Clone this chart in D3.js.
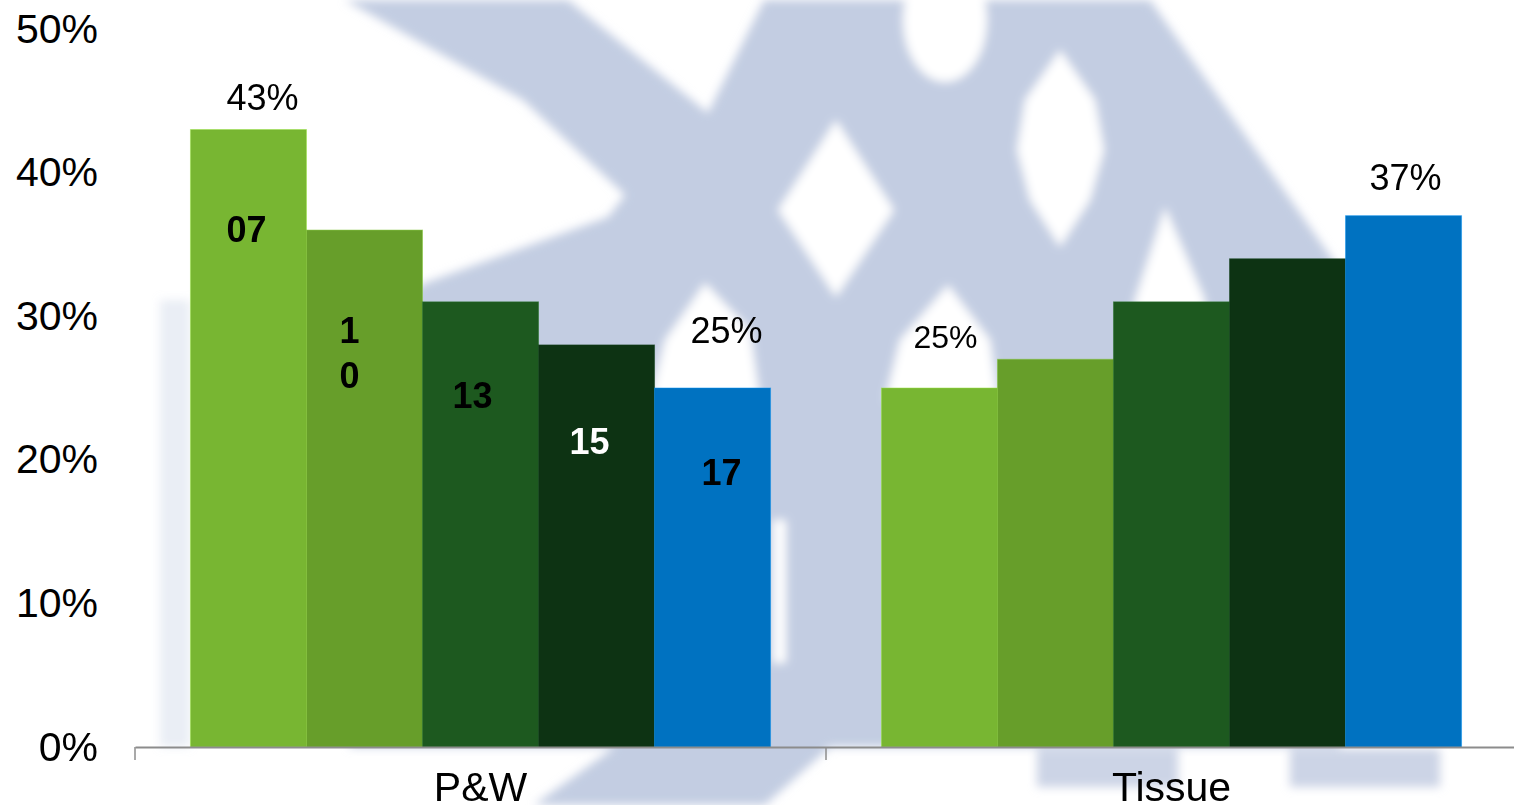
<!DOCTYPE html>
<html>
<head>
<meta charset="utf-8">
<script src="https://d3js.org/d3.v7.min.js"></script>
<style>
  body { margin: 0; background: #fff; }
  svg { display: block; font-family: "Liberation Sans", Arial, sans-serif; }
</style>
</head>
<body>
<div id="chart"></div>
<script>
// Chart values
const categories = ["P&W", "Tissue"];
const years = ["2007", "2010", "2013", "2015", "2017"];
const pwValues = [0.43, 0.36, 0.31, 0.28, 0.25];
const tissueValues = [0.25, 0.27, 0.31, 0.34, 0.37];
const yTicks = [0, 0.1, 0.2, 0.3, 0.4, 0.5];
// short year tags written inside the P&W bars (2010 wraps onto two lines)
const yearTags = [["07"], ["1", "0"], ["13"], ["15"], ["17"]];
// which bars carry a percentage label
const labelledBars = [0, 4];

const barColors = ["#78b632", "#679e2a", "#1d591f", "#0d3313", "#0072c1"];
const tagColors = ["#000", "#000", "#000", "#fff", "#000"];

const W = 1514, H = 805;
const baseY = 747;

const svg = d3.select("#chart")
    .append("svg")
    .attr("width", W)
    .attr("height", H);

// ---- faded logo watermark in the background ----
const defs = svg.append("defs");
defs.append("filter")
    .attr("id", "soft")
    .attr("filterUnits", "userSpaceOnUse")
    .attr("x", -50).attr("y", -50).attr("width", W + 100).attr("height", H + 100)
    .append("feGaussianBlur")
    .attr("stdDeviation", 5);

const wm = svg.append("g").attr("filter", "url(#soft)");
const wmBlue = "#c3cde2";
const line = d3.line();

wm.append("path")
    .attr("fill", wmBlue)
    .attr("d", line([
        [345, 0], [568, 0], [708, 113], [764, 0], [1150, 0], [1340, 270],
        [1340, 747], [830, 747], [765, 805], [534, 805], [615, 747],
        [350, 747], [350, 330], [425, 283], [608, 217], [625, 195], [523, 100]
    ]) + "Z");
wm.append("rect").attr("x", 160).attr("y", 300).attr("width", 30).attr("height", 447)
    .attr("fill", wmBlue).attr("opacity", 0.35);
wm.append("rect").attr("x", 1037).attr("y", 749).attr("width", 141).attr("height", 38)
    .attr("fill", wmBlue).attr("opacity", 0.85);
wm.append("rect").attr("x", 1290).attr("y", 749).attr("width", 150).attr("height", 38)
    .attr("fill", wmBlue).attr("opacity", 0.85);

// white cut-outs of the logo
wm.append("ellipse").attr("cx", 945).attr("cy", 20).attr("rx", 42).attr("ry", 62).attr("fill", "#fff");
wm.append("path").attr("fill", "#fff")
    .attr("d", line([[836, 120], [894, 210], [836, 297], [778, 210]]) + "Z");
wm.append("path").attr("fill", "#fff")
    .attr("d", line([[1060, 50], [1095, 100], [1104, 150], [1090, 200], [1060, 247], [1030, 200], [1017, 150], [1025, 100]]) + "Z");
wm.append("path").attr("fill", "#fff")
    .attr("d", line([[1165, 207], [1205, 300], [1205, 330], [1130, 330], [1135, 300]]) + "Z");
wm.append("path").attr("fill", "#fff")
    .attr("d", line([[948, 285], [990, 340], [998, 400], [885, 400], [900, 340]]) + "Z");
wm.append("path").attr("fill", "#fff")
    .attr("d", line([[705, 283], [750, 330], [760, 400], [650, 400], [665, 340]]) + "Z");
wm.append("rect").attr("x", 773).attr("y", 520).attr("width", 13).attr("height", 143).attr("fill", "#fff");

// ---- scales ----
const y = d3.scaleLinear().domain([0, 0.5]).range([baseY, 29]);

const x0 = d3.scaleBand()
    .domain(categories)
    .range([135, 1517]);

const x1 = d3.scaleBand()
    .domain(years)
    .range([0, x0.bandwidth()])
    .paddingOuter(0.478);

const color = d3.scaleOrdinal().domain(years).range(barColors);

const valuesFor = {"P&W": pwValues, "Tissue": tissueValues};
const table = categories.map((c) => ({
    category: c,
    bars: years.map((yr, i) => ({category: c, year: yr, index: i, value: valuesFor[c][i]}))
}));

// ---- bars ----
const groups = svg.append("g")
    .selectAll("g")
    .data(table)
    .join("g")
    .attr("transform", (d) => `translate(${x0(d.category)},0)`);

groups.selectAll("rect")
    .data((d) => d.bars)
    .join("rect")
    .attr("x", (d) => x1(d.year))
    .attr("y", (d) => y(d.value))
    .attr("width", x1.bandwidth())
    .attr("height", (d) => baseY - y(d.value))
    .attr("fill", (d) => color(d.year))
    .attr("stroke", (d) => d3.color(color(d.year)).brighter(0.6))
    .attr("stroke-opacity", 0.5)
    .attr("stroke-width", 1);

// ---- percentage labels (hand-placed in the original, so nudged per bar) ----
const valueNudge = {
    "P&W": [{dx: 14, dy: -20, size: 36}, null, null, null, {dx: 14, dy: -45, size: 36}],
    "Tissue": [{dx: 6, dy: -40, size: 32}, null, null, null, {dx: 2, dy: -26, size: 36}]
};
groups.selectAll("text.value")
    .data((d) => d.bars.filter((b) => labelledBars.includes(b.index)))
    .join("text")
    .attr("class", "value")
    .attr("text-anchor", "middle")
    .attr("x", (d) => x1(d.year) + x1.bandwidth() / 2 + valueNudge[d.category][d.index].dx)
    .attr("y", (d) => y(d.value) + valueNudge[d.category][d.index].dy)
    .style("font-size", (d) => valueNudge[d.category][d.index].size + "px")
    .attr("fill", "#000")
    .text((d) => d3.format(".0%")(d.value));

// ---- year tags inside the P&W bars ----
const tagNudge = [{dx: -2, dy: 112}, {dx: -15, dy: 113}, {dx: -8, dy: 106}, {dx: -7, dy: 109}, {dx: 9, dy: 97}];
const tags = groups.filter((d) => d.category === "P&W")
    .selectAll("text.tag")
    .data((d) => d.bars)
    .join("text")
    .attr("class", "tag")
    .attr("text-anchor", "middle")
    .style("font-size", "36px")
    .style("font-weight", "bold")
    .attr("fill", (d) => tagColors[d.index]);

tags.selectAll("tspan")
    .data((d) => yearTags[d.index].map((t, k) => ({t, k, bar: d})))
    .join("tspan")
    .attr("x", (d) => x1(d.bar.year) + x1.bandwidth() / 2 + tagNudge[d.bar.index].dx)
    .attr("y", (d) => y(d.bar.value) + tagNudge[d.bar.index].dy + d.k * 45)
    .text((d) => d.t);

// ---- x axis ----
const xAxis = svg.append("g")
    .attr("transform", `translate(0,${baseY})`)
    .call(d3.axisBottom(x0).tickSize(0).tickSizeOuter(0).tickPadding(25));
xAxis.select(".domain").attr("stroke", "#8c8c8c").attr("stroke-width", 2);
xAxis.selectAll("text").style("font-size", "41px").attr("fill", "#000");

// category dividers sit at the band edges, not the centres
xAxis.selectAll("line.divider")
    .data(categories)
    .join("line")
    .attr("class", "divider")
    .attr("x1", (d) => x0(d))
    .attr("x2", (d) => x0(d))
    .attr("y1", 0)
    .attr("y2", 13)
    .attr("stroke", "#8c8c8c")
    .attr("stroke-width", 1.5);

// ---- y axis (labels only) ----
const yAxis = svg.append("g")
    .attr("transform", "translate(135,0)")
    .call(d3.axisLeft(y).tickValues(yTicks).tickFormat(d3.format(".0%")).tickSize(0).tickPadding(37));
yAxis.select(".domain").remove();
yAxis.selectAll("text").style("font-size", "41px").attr("fill", "#000");
</script>
</body>
</html>
